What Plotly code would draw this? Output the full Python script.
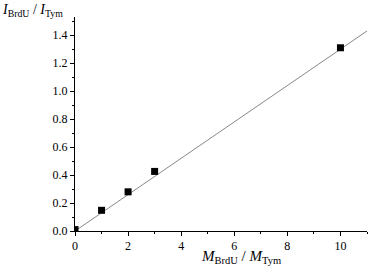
import plotly.graph_objects as go

# Data
ratio_mass = [0, 1, 2, 3, 10]
ratio_intensity = [0.01, 0.148, 0.28, 0.426, 1.31]
fit_x = [0, 11]
fit_y = [0.0, 1.43]

x_ticks = [0, 2, 4, 6, 8, 10]
y_ticks = [0.0, 0.2, 0.4, 0.6, 0.8, 1.0, 1.2, 1.4]

font_family = "Liberation Serif, Times New Roman, serif"

fig = go.Figure()
fig.add_trace(go.Scatter(x=fit_x, y=fit_y, mode="lines",
                         line=dict(color="#888888", width=1), hoverinfo="skip"))
fig.add_trace(go.Scatter(x=ratio_mass, y=ratio_intensity, mode="markers",
                         marker=dict(symbol="square", size=7, color="black")))

fig.update_layout(
    width=368, height=271,
    margin=dict(l=75, r=1, t=17, b=40, autoexpand=False),
    paper_bgcolor="white", plot_bgcolor="white",
    showlegend=False,
    font=dict(family=font_family, size=12, color="black"),
    xaxis=dict(range=[0, 11], tickvals=x_ticks, ticktext=[str(v) for v in x_ticks],
               showgrid=False, zeroline=False, showline=True, linecolor="black", linewidth=1,
               ticks="outside", ticklen=4, tickcolor="black", automargin=False,
               minor=dict(ticks="outside", dtick=1, ticklen=2, tickcolor="black"),
               tickfont=dict(family=font_family, size=12)),
    yaxis=dict(range=[0, 1.53], tickvals=y_ticks, ticktext=[f"{v:.1f}" for v in y_ticks],
               showgrid=False, zeroline=False, showline=True, linecolor="black", linewidth=1,
               ticks="outside", ticklen=4, tickcolor="black", automargin=False,
               minor=dict(ticks="outside", dtick=0.1, ticklen=2, tickcolor="black"),
               tickfont=dict(family=font_family, size=12)),
)

fig.add_annotation(xref="paper", yref="paper", x=-75/292, y=1 + 17/214, xanchor="left", yanchor="top",
                   text="<i>I</i><sub>BrdU</sub> / <i>I</i><sub>Tym</sub>", showarrow=False,
                   font=dict(family=font_family, size=14))
fig.add_annotation(xref="paper", yref="paper", x=(241-75)/292, y=-26/214, xanchor="center", yanchor="middle",
                   text="<i>M</i><sub>BrdU</sub> / <i>M</i><sub>Tym</sub>", showarrow=False,
                   font=dict(family=font_family, size=15))

fig.write_html("out.html", config={"displayModeBar": False},
               post_script="document.body.style.margin='0';document.body.style.overflow='hidden';")
